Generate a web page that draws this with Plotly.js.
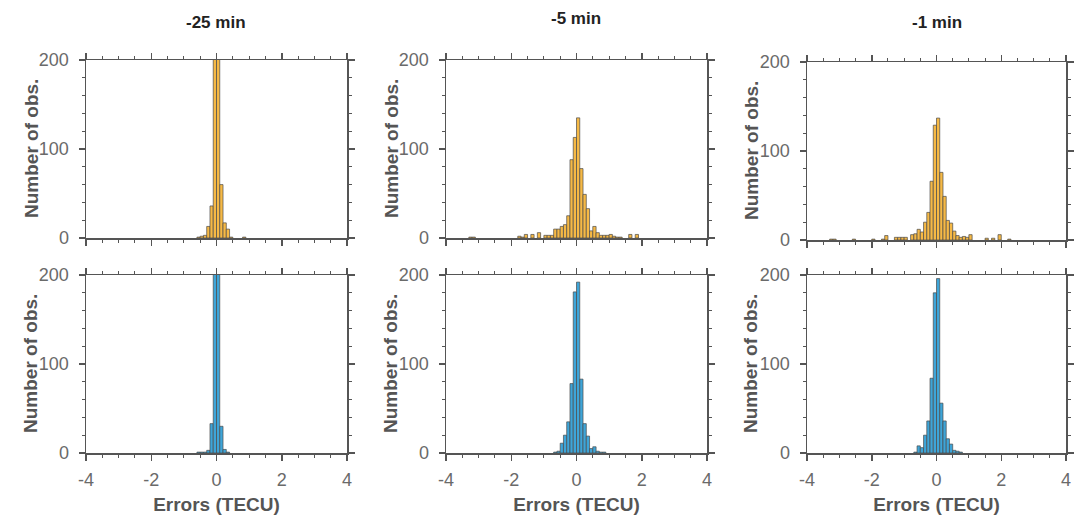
<!DOCTYPE html>
<html>
<head>
<meta charset="utf-8">
<script src="https://cdn.plot.ly/plotly-3.0.1.min.js"></script>
<style>html,body{margin:0;padding:0;background:#fff;}#chart{width:1081px;height:518px;}</style>
</head>
<body>
<div id="chart"></div>
<script>
// Column titles and axis texts
const panelTitles = ['-25 min', '-5 min', '-1 min'];
const yTitle = 'Number of obs.';
const xTitle = 'Errors (TECU)';
const xTickVals = [-4, -2, 0, 2, 4];
const xTickText = ['-4', '-2', '0', '2', '4'];

// Histogram bin centres (bin width 0.1 TECU) and counts
// Top row (orange)
const top25X = [-0.55, -0.45, -0.35, -0.25, -0.15, -0.05, 0.05, 0.15, 0.25, 0.35, 0.45, 0.85];
const top25Y = [1, 2, 3, 13, 36, 260, 240, 60, 17, 10, 1, 1];

const top5X = [-3.25, -3.15, -1.75, -1.65, -1.55, -1.35, -1.15, -0.95, -0.85, -0.75, -0.65, -0.55, -0.45, -0.35, -0.25, -0.15, -0.05, 0.05, 0.15, 0.25, 0.35, 0.45, 0.55, 0.65, 0.75, 0.85, 0.95, 1.05, 1.15, 1.25, 1.35, 1.65, 1.85];
const top5Y = [1, 1, 2, 1, 4, 4, 6, 3, 3, 3, 10, 10, 13, 15, 25, 88, 113, 135, 78, 49, 33, 8, 13, 6, 3, 3, 3, 4, 2, 1, 1, 4, 4];

const top1X = [-3.25, -3.15, -2.55, -1.95, -1.65, -1.55, -1.25, -1.15, -1.05, -0.95, -0.75, -0.65, -0.55, -0.45, -0.35, -0.25, -0.15, -0.05, 0.05, 0.15, 0.25, 0.35, 0.45, 0.55, 0.65, 0.75, 0.85, 0.95, 1.05, 1.55, 1.75, 1.95, 2.25];
const top1Y = [1, 1, 1, 1, 1, 5, 3, 3, 3, 3, 6, 7, 12, 9, 20, 31, 66, 129, 137, 76, 49, 22, 19, 10, 5, 3, 4, 3, 6, 2, 2, 6, 1];

// Bottom row (blue)
const bot25X = [-0.55, -0.45, -0.35, -0.25, -0.15, -0.05, 0.05, 0.15, 0.25, 0.35];
const bot25Y = [1, 1, 1, 3, 33, 260, 240, 30, 4, 1];

const bot5X = [-0.65, -0.55, -0.45, -0.35, -0.25, -0.15, -0.05, 0.05, 0.15, 0.25, 0.35, 0.45, 0.55, 0.65, 0.75, 0.85];
const bot5Y = [1, 2, 11, 20, 35, 78, 181, 192, 83, 33, 19, 5, 7, 2, 1, 1];

const bot1X = [-0.65, -0.55, -0.45, -0.35, -0.25, -0.15, -0.05, 0.05, 0.15, 0.25, 0.35, 0.45, 0.55, 0.65, 0.75];
const bot1Y = [1, 8, 6, 20, 36, 84, 180, 196, 56, 36, 16, 10, 3, 2, 1];

const orange = '#F6B945';
const blue = '#3EA5D8';
const edge = '#4a4a4a';

function bars(x, y, color, xa, ya) {
  return {
    type: 'bar', x: x, y: y, width: 0.1, xaxis: xa, yaxis: ya,
    marker: {color: color, line: {color: edge, width: 0.7}},
    showlegend: false, hoverinfo: 'x+y'
  };
}

const data = [
  bars(top25X, top25Y, orange, 'x', 'y'),
  bars(top5X, top5Y, orange, 'x2', 'y2'),
  bars(top1X, top1Y, orange, 'x3', 'y3'),
  bars(bot25X, bot25Y, blue, 'x4', 'y4'),
  bars(bot5X, bot5Y, blue, 'x5', 'y5'),
  bars(bot1X, bot1Y, blue, 'x6', 'y6')
];

const W = 1081, H = 518;
const colPx = [[86, 347], [446, 707], [807, 1066]];
const rowPx = [[[60, 238], [60, 238], [62, 240]], [[275, 453], [275, 453], [275, 453]]];
const yTitleX = [31, 391, 751];

const axisColor = '#555555';
const fam = 'Arial, "Liberation Sans", sans-serif';
const tickFont = {family: fam, size: 18, color: '#6a6a6a'};
const titleFont = {family: fam, size: 19, color: '#555555', weight: 'bold'};

function sfx(n) { return n === 1 ? '' : String(n); }

function xAxis(col, row, showLabels) {
  const n = row * 3 + col + 1;
  const ax = {
    domain: [colPx[col][0] / W, colPx[col][1] / W],
    anchor: 'y' + sfx(n),
    range: [-4, 4], tickmode: 'array', tickvals: xTickVals, ticktext: xTickText,
    ticks: 'outside', ticklen: 6, tickwidth: 1.5, tickcolor: axisColor,
    minor: {tickmode: 'linear', tick0: 0, dtick: 0.5, ticks: 'outside', ticklen: 3, tickwidth: 1, tickcolor: axisColor},
    showline: true, linecolor: axisColor, linewidth: 1.5, mirror: 'allticks',
    showgrid: false, zeroline: false, fixedrange: true,
    showticklabels: showLabels, tickfont: tickFont, ticklabelstandoff: 4
  };
  if (showLabels) ax.title = {text: xTitle, font: titleFont, standoff: 8};
  return ax;
}
function yAxis(col, row) {
  const n = row * 3 + col + 1;
  const r = rowPx[row][col];
  return {
    domain: [(H - r[1]) / H, (H - r[0]) / H],
    anchor: 'x' + sfx(n),
    range: [0, 200], tick0: 0, dtick: 100,
    ticks: 'outside', ticklen: 6, tickwidth: 1.5, tickcolor: axisColor,
    minor: {dtick: 20, ticks: 'outside', ticklen: 3, tickwidth: 1, tickcolor: axisColor},
    showline: true, linecolor: axisColor, linewidth: 1.5, mirror: 'allticks',
    showgrid: false, zeroline: false, fixedrange: true,
    tickfont: tickFont, ticklabelstandoff: 6
  };
}

const annotations = panelTitles.map((t, i) => ({
  text: t, xref: 'paper', yref: 'paper',
  x: [216, 576, 937][i] / W, y: (H - [22, 18, 22][i]) / H,
  xanchor: 'center', yanchor: 'middle', showarrow: false,
  font: {family: fam, size: 17, color: '#222222', weight: 'bold'}
}));

const layout = {
  width: W, height: H,
  margin: {l: 0, r: 0, t: 0, b: 0},
  paper_bgcolor: '#ffffff', plot_bgcolor: '#ffffff',
  showlegend: false, bargap: 0,
  annotations: annotations
};

for (let row = 0; row < 2; row++) {
  for (let col = 0; col < 3; col++) {
    const n = row * 3 + col + 1;
    layout['xaxis' + sfx(n)] = xAxis(col, row, row === 1);
    layout['yaxis' + sfx(n)] = yAxis(col, row);
    const r = rowPx[row][col];
    annotations.push({
      text: yTitle, xref: 'paper', yref: 'paper',
      x: yTitleX[col] / W, y: (H - (r[0] + r[1]) / 2) / H,
      xanchor: 'center', yanchor: 'middle', textangle: -90, showarrow: false,
      font: titleFont
    });
  }
}

Plotly.newPlot('chart', data, layout, {displayModeBar: false, staticPlot: true});
</script>
</body>
</html>
